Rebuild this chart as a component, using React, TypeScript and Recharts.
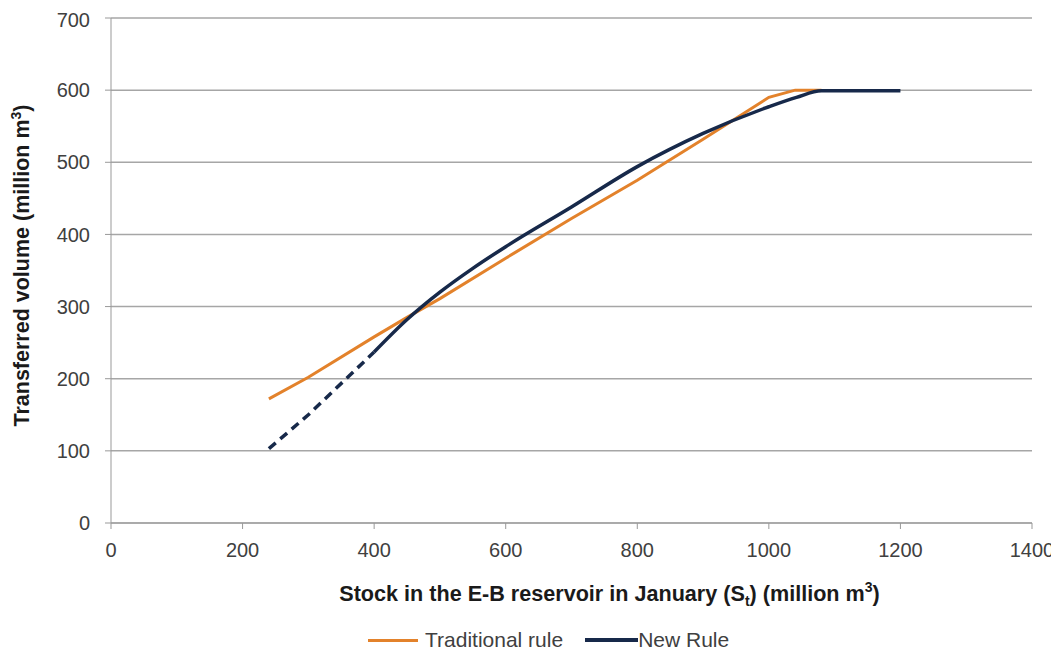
import React from 'react'
import { LineChart, Line, XAxis, YAxis, CartesianGrid, Label } from 'recharts'

// stock in January (million m3) and transferred volume (million m3)
const traditionalStock = [240, 300, 400, 450, 500, 600, 700, 800, 900, 1000, 1040, 1080]
const traditionalVolume = [172, 202, 258, 285, 311, 367, 422, 475, 532, 590, 600, 600]

const newDashedStock = [240, 300, 400]
const newDashedVolume = [103, 150, 237]

const newStock = [400, 450, 500, 550, 600, 700, 800, 900, 1000, 1042, 1080, 1200]
const newVolume = [237, 282, 320, 353, 383, 438, 494, 540, 577, 590, 599, 599]

const xTicks = [0, 200, 400, 600, 800, 1000, 1200, 1400]
const yTicks = [0, 100, 200, 300, 400, 500, 600, 700]

const ORANGE = '#E3822B'
const NAVY = '#17294A'
const FONT = '"Liberation Sans", Arial, sans-serif'

const zip = (xs: number[], ys: number[]) => xs.map((x, i) => ({ x, y: ys[i] }))

const traditional = zip(traditionalStock, traditionalVolume)
const newDashed = zip(newDashedStock, newDashedVolume)
const newRule = zip(newStock, newVolume)

const LegendBox = () => (
  <div
    style={{
      position: 'absolute',
      top: 620,
      left: 360,
      display: 'flex',
      alignItems: 'center',
      fontFamily: FONT,
      fontSize: 21,
      lineHeight: '24px',
      color: '#404040',
    }}
  >
    <span style={{ display: 'inline-block', width: 50, height: 3, background: ORANGE, marginRight: 7 }} />
    <span style={{ marginRight: 22 }}>Traditional rule</span>
    <span style={{ display: 'inline-block', width: 53, height: 4, background: NAVY }} />
    <span>New Rule</span>
  </div>
)

export default function App() {
  return (
    <div style={{ position: 'relative', fontFamily: FONT, width: 1051, height: 640 }}>
      <LineChart width={1051} height={640} margin={{ top: 10, right: 27, bottom: 95, left: 43 }}>
        <CartesianGrid horizontal vertical={false} stroke="#a6a6a6" strokeWidth={1.5} />
        <XAxis
          type="number"
          dataKey="x"
          domain={[0, 1400]}
          ticks={xTicks}
          tickSize={6}
          tickMargin={14}
          stroke="#999"
          tick={{ fill: '#404040', fontSize: 20, fontFamily: FONT }}
          height={30}
        >
          <Label
            content={({ viewBox }: any) => (
              <text
                x={viewBox.x + viewBox.width / 2 + 38}
                y={viewBox.y + 78}
                textAnchor="middle"
                fontFamily={FONT}
                fontSize={21.6}
                fontWeight="bold"
                fill="#1a1a1a"
              >
                Stock in the E-B reservoir in January (S
                <tspan fontSize={14} dy={5}>t</tspan>
                <tspan dy={-5}>) (million m</tspan>
                <tspan fontSize={14} dy={-9}>3</tspan>
                <tspan dy={9}>)</tspan>
              </text>
            )}
          />
        </XAxis>
        <YAxis
          type="number"
          dataKey="y"
          domain={[0, 700]}
          ticks={yTicks}
          tickSize={6}
          tickMargin={15}
          stroke="#999"
          tick={{ fill: '#404040', fontSize: 20, fontFamily: FONT }}
          width={60}
        >
          <Label
            content={({ viewBox }: any) => {
              const cx = 21
              const cy = viewBox.y + viewBox.height / 2 - 5
              return (
                <text
                  x={cx}
                  y={cy}
                  transform={`rotate(-90 ${cx} ${cy})`}
                  textAnchor="middle"
                  fontFamily={FONT}
                  fontSize={21.5}
                  fontWeight="bold"
                  fill="#1a1a1a"
                >
                  Transferred volume (million m
                  <tspan fontSize={14} dy={-8}>3</tspan>
                  <tspan dy={8}>)</tspan>
                </text>
              )
            }}
          />
        </YAxis>
        <Line
          data={traditional}
          dataKey="y"
          name="Traditional rule"
          stroke={ORANGE}
          strokeWidth={3}
          dot={false}
          type="linear"
          isAnimationActive={false}
        />
        <Line
          data={newDashed}
          dataKey="y"
          name="New Rule (dashed)"
          stroke={NAVY}
          strokeWidth={3.5}
          strokeDasharray="9 6"
          dot={false}
          type="linear"
          isAnimationActive={false}
        />
        <Line
          data={newRule}
          dataKey="y"
          name="New Rule"
          stroke={NAVY}
          strokeWidth={3.5}
          dot={false}
          type="monotone"
          isAnimationActive={false}
        />
      </LineChart>
      <LegendBox />
    </div>
  )
}
